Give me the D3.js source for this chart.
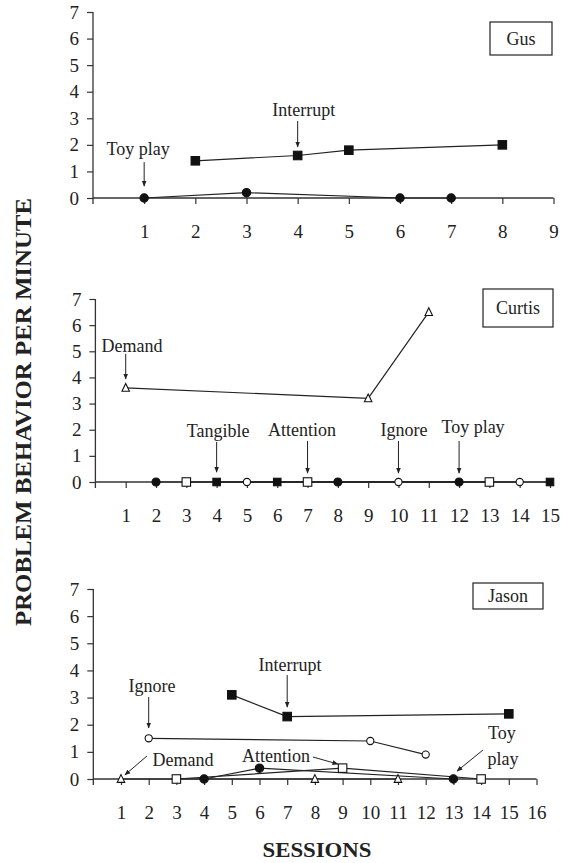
<!DOCTYPE html>
<html lang="en">
<head>
<meta charset="UTF-8">
<title>Problem behavior per minute</title>
<script src="https://cdnjs.cloudflare.com/ajax/libs/d3/7.8.5/d3.min.js"></script>
<style>
  body { margin: 0; background: #fff; }
  svg { display: block; font-family: "Liberation Serif", "DejaVu Serif", serif; }
  .tick-label { font-size: 19px; fill: #222; }
  .note { font-size: 18px; fill: #222; }
  .line { fill: none; stroke: #222; stroke-width: 1.2; }
</style>
</head>
<body>
<div id="chart"></div>
<script>
// ---- data: [session, problem behavior per minute] ----
var gusToyPlay = [[1, 0], [3, 0.2], [6, 0], [7, 0]];
var gusInterrupt = [[2, 1.4], [4, 1.6], [5, 1.8], [8, 2.0]];

var curtisDemand = [[1, 3.6], [9, 3.2], [11, 6.5]];
var curtisToyPlay = [[2, 0], [8, 0], [12, 0]];
var curtisAttention = [[3, 0], [7, 0], [13, 0]];
var curtisTangible = [[4, 0], [6, 0], [15, 0]];
var curtisIgnore = [[5, 0], [10, 0], [14, 0]];

var jasonDemand = [[1, 0], [8, 0], [11, 0]];
var jasonIgnore = [[2, 1.5], [10, 1.4], [12, 0.9]];
var jasonAttention = [[3, 0], [9, 0.4], [14, 0]];
var jasonToyPlay = [[4, 0], [6, 0.4], [13, 0]];
var jasonInterrupt = [[5, 3.1], [7, 2.3], [15, 2.4]];

var yTicks = [0, 1, 2, 3, 4, 5, 6, 7];
var gusTicks = d3.range(1, 10);
var curtisTicks = d3.range(1, 16);
var jasonTicks = d3.range(1, 17);

// annotations in data units: text at (tx, ty), arrow from (x1,y1) to (x2,y2)
var gusNotes = [
  {text: "Toy play", tx: 0.88, ty: 1.62, x1: 1, y1: 1.35, x2: 1, y2: 0.45},
  {text: "Interrupt", tx: 4.12, ty: 3.09, x1: 4, y1: 2.9, x2: 4, y2: 1.92}
];
var curtisNotes = [
  {text: "Demand", tx: 1.21, ty: 4.97, x1: 1, y1: 4.9, x2: 1, y2: 3.94},
  {text: "Tangible", tx: 4.05, ty: 1.72, x1: 4, y1: 1.53, x2: 4, y2: 0.38},
  {text: "Attention", tx: 6.82, ty: 1.76, x1: 7, y1: 1.57, x2: 7, y2: 0.34},
  {text: "Ignore", tx: 10.18, ty: 1.76, x1: 10, y1: 1.57, x2: 10, y2: 0.34},
  {text: "Toy play", tx: 12.46, ty: 1.87, x1: 12, y1: 1.57, x2: 12, y2: 0.34}
];
var jasonNotes = [
  {text: "Interrupt", tx: 7.1, ty: 3.98, x1: 7, y1: 3.83, x2: 7, y2: 2.65},
  {text: "Ignore", tx: 2.12, ty: 3.2, x1: 2, y1: 3.02, x2: 2, y2: 1.88},
  {text: "Demand", tx: 3.24, ty: 0.48, x1: 1.94, y1: 0.85, x2: 1.14, y2: 0.15},
  {text: "Attention", tx: 6.6, ty: 0.63, x1: 7.93, y1: 0.81, x2: 8.83, y2: 0.55},
  {text: "Toy", tx: 14.75, ty: 1.47},
  {text: "play", tx: 14.79, ty: 0.52, x1: 14.07, y1: 1.07, x2: 13.13, y2: 0.29}
];

var W = 569, H = 863;

var svg = d3.select("#chart").append("svg")
  .attr("width", W)
  .attr("height", H);

svg.append("defs").append("marker")
  .attr("id", "arrow")
  .attr("viewBox", "0 0 10 10")
  .attr("refX", 9).attr("refY", 5)
  .attr("markerWidth", 6).attr("markerHeight", 6)
  .attr("markerUnits", "userSpaceOnUse")
  .attr("orient", "auto")
  .append("path")
  .attr("d", "M0,1L10,5L0,9Z")
  .attr("fill", "#222");

var panels = [
  {name: "Gus", xMax: 9, ticks: gusTicks, xr: [93, 553.5], yr: [198, 12],
   box: [490, 22, 62, 33], notes: gusNotes,
   series: [
     {data: gusToyPlay, shape: "circle", filled: true, size: 4.2},
     {data: gusInterrupt, shape: "square", filled: true, size: 8.5}
   ]},
  {name: "Curtis", xMax: 15, ticks: curtisTicks, xr: [95.4, 550], yr: [482, 299],
   box: [483, 289, 70, 38], notes: curtisNotes,
   series: [
     {data: curtisDemand, shape: "triangle", filled: false, size: 7.5},
     {data: curtisToyPlay, shape: "circle", filled: true, size: 4},
     {data: curtisAttention, shape: "square", filled: false, size: 8.5},
     {data: curtisTangible, shape: "square", filled: true, size: 7.5},
     {data: curtisIgnore, shape: "circle", filled: false, size: 3.6}
   ]},
  {name: "Jason", xMax: 16, ticks: jasonTicks, xr: [93.3, 536.5], yr: [779, 589],
   box: [473, 583, 70, 26], notes: jasonNotes,
   series: [
     {data: jasonDemand, shape: "triangle", filled: false, size: 7.5},
     {data: jasonIgnore, shape: "circle", filled: false, size: 3.6},
     {data: jasonAttention, shape: "square", filled: false, size: 8.5},
     {data: jasonToyPlay, shape: "circle", filled: true, size: 4.2},
     {data: jasonInterrupt, shape: "square", filled: true, size: 8.5}
   ]}
];

panels.forEach(function(p) {
  var x = d3.scaleLinear().domain([0, p.xMax]).range(p.xr);
  var y = d3.scaleLinear().domain([0, 7]).range(p.yr);
  var g = svg.append("g");

  // y axis
  var yAxis = d3.axisLeft(y).tickValues(yTicks).tickFormat(d3.format("d"))
    .tickSize(6).tickPadding(8);
  var ya = g.append("g")
    .attr("transform", "translate(" + p.xr[0] + ",0)")
    .call(yAxis)
    .attr("font-family", null).attr("font-size", null);
  ya.select(".domain").remove();
  ya.selectAll(".tick line").attr("stroke", "#333").attr("stroke-width", 1.2);
  ya.selectAll(".tick text").attr("class", "tick-label");
  g.append("line")
    .attr("x1", p.xr[0]).attr("x2", p.xr[0])
    .attr("y1", y(7)).attr("y2", y(0) + 6)
    .attr("stroke", "#333").attr("stroke-width", 1.3);

  // x axis
  var xAxis = d3.axisBottom(x).tickValues(p.ticks).tickFormat(d3.format("d"))
    .tickSize(6).tickPadding(21);
  var xa = g.append("g")
    .attr("transform", "translate(0," + y(0) + ")")
    .call(xAxis)
    .attr("font-family", null).attr("font-size", null);
  xa.select(".domain").remove();
  xa.selectAll(".tick line").attr("stroke", "#333").attr("stroke-width", 1.2);
  xa.selectAll(".tick text").attr("class", "tick-label");
  g.append("line")
    .attr("x1", p.xr[0]).attr("x2", x(p.xMax))
    .attr("y1", y(0)).attr("y2", y(0))
    .attr("stroke", "#333").attr("stroke-width", 1.3);

  // name box
  g.append("rect")
    .attr("x", p.box[0]).attr("y", p.box[1])
    .attr("width", p.box[2]).attr("height", p.box[3])
    .attr("fill", "#fff").attr("stroke", "#222").attr("stroke-width", 1.2);
  g.append("text")
    .attr("x", p.box[0] + p.box[2] / 2)
    .attr("y", p.box[1] + p.box[3] / 2 + 6)
    .attr("text-anchor", "middle")
    .attr("font-size", 18).attr("fill", "#222")
    .text(p.name);

  var line = d3.line()
    .x(function(d) { return x(d[0]); })
    .y(function(d) { return y(d[1]); });

  p.series.forEach(function(s) {
    g.append("path").datum(s.data).attr("class", "line").attr("d", line);
  });

  p.series.forEach(function(s) {
    var pts = g.append("g").selectAll("g").data(s.data).enter().append("g")
      .attr("transform", function(d) { return "translate(" + x(d[0]) + "," + y(d[1]) + ")"; });
    var fill = s.filled ? "#111" : "#fff";
    if (s.shape === "circle") {
      pts.append("circle").attr("r", s.size);
    } else if (s.shape === "square") {
      pts.append("rect")
        .attr("x", -s.size / 2).attr("y", -s.size / 2)
        .attr("width", s.size).attr("height", s.size);
    } else {
      var h = s.size * 0.9;
      pts.append("path")
        .attr("d", "M0," + (-h / 2 - 1) + "L" + (s.size / 2) + "," + (h / 2) + "L" + (-s.size / 2) + "," + (h / 2) + "Z");
    }
    pts.selectChildren()
      .attr("fill", fill)
      .attr("stroke", "#111")
      .attr("stroke-width", 1.1);
  });

  // annotations
  p.notes.forEach(function(n) {
    g.append("text").attr("class", "note")
      .attr("x", x(n.tx)).attr("y", y(n.ty))
      .attr("text-anchor", "middle")
      .text(n.text);
    if (n.x1 !== undefined) {
      g.append("line")
        .attr("x1", x(n.x1)).attr("y1", y(n.y1))
        .attr("x2", x(n.x2)).attr("y2", y(n.y2))
        .attr("stroke", "#222").attr("stroke-width", 1)
        .attr("marker-end", "url(#arrow)");
    }
  });
});

// axis titles
svg.append("text")
  .attr("transform", "translate(31,412) rotate(-90)")
  .attr("text-anchor", "middle")
  .attr("font-size", 23).attr("font-weight", "bold").attr("fill", "#222")
  .attr("textLength", 428).attr("lengthAdjust", "spacingAndGlyphs")
  .text("PROBLEM BEHAVIOR PER MINUTE");

svg.append("text")
  .attr("x", 317).attr("y", 857)
  .attr("text-anchor", "middle")
  .attr("font-size", 21).attr("font-weight", "bold").attr("fill", "#222")
  .attr("textLength", 109).attr("lengthAdjust", "spacingAndGlyphs")
  .text("SESSIONS");
</script>
</body>
</html>
